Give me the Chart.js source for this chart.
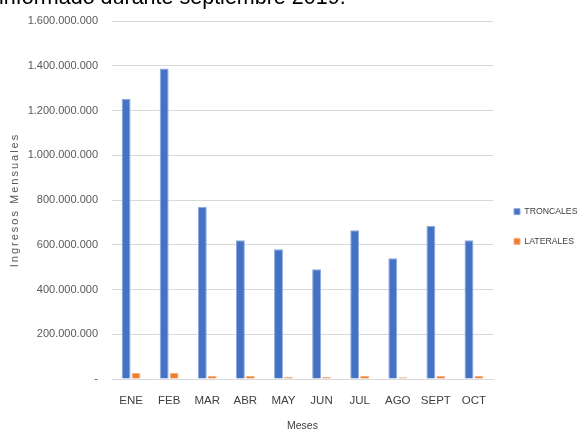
<!DOCTYPE html>
<html>
<head>
<meta charset="utf-8">
<script src="https://cdn.jsdelivr.net/npm/chart.js@4/dist/chart.umd.min.js"></script>
<style>
  body { margin: 0; background: #fff; }
  #wrap { position: relative; width: 578px; height: 432px; overflow: hidden; }
  #doc {
    position: absolute; left: -1px; top: -13px;
    font: 21.5px "Liberation Sans", Arial, sans-serif; line-height: 21px;
    color: #000; white-space: nowrap;
  }
</style>
</head>
<body>
<div id="wrap">
  <canvas id="ingresosChart" width="578" height="432"></canvas>
  <div id="doc">informado durante septiembre 2019.</div>
</div>
<script>
const meses = ['ENE', 'FEB', 'MAR', 'ABR', 'MAY', 'JUN', 'JUL', 'AGO', 'SEPT', 'OCT'];
const troncales = [1253000000, 1388000000, 770000000, 620000000, 580000000, 490000000, 665000000, 540000000, 685000000, 620000000];
const laterales = [27000000, 27000000, 15000000, 15000000, 9000000, 9000000, 15000000, 8000000, 15000000, 15000000];

const sans = '"Liberation Sans", Arial, sans-serif';

function puntos(v) {
  if (v === 0) return '-';
  return String(v).replace(/\B(?=(\d{3})+(?!\d))/g, '.');
}

// y axis title is drawn with letter spacing, as in the source
const spacedTitle = {
  id: 'spacedTitle',
  beforeDraw(chart) {
    const s = chart.scales.y;
    if (!s._spaced) {
      const orig = s.drawTitle;
      s.drawTitle = function () {
        this.ctx.save();
        this.ctx.letterSpacing = '2px';
        orig.call(this);
        this.ctx.restore();
      };
      s._spaced = true;
    }
  }
};

new Chart('ingresosChart', {
  type: 'bar',
  data: {
    labels: meses,
    datasets: [
      {
        label: 'TRONCALES',
        data: troncales,
        backgroundColor: '#4472C4',
        borderColor: '#8eaadb',
        borderWidth: 1,
        categoryPercentage: 0.52,
        barPercentage: 0.9
      },
      {
        label: 'LATERALES',
        data: laterales,
        backgroundColor: '#ED7D31',
        borderColor: '#f4b183',
        borderWidth: 1,
        categoryPercentage: 0.52,
        barPercentage: 0.9
      }
    ]
  },
  options: {
    responsive: false,
    animation: false,
    layout: { padding: { top: 21, left: 0, right: 0, bottom: 0 } },
    plugins: {
      tooltip: { enabled: false },
      legend: {
        position: 'right',
        maxWidth: 85,
        labels: {
          boxWidth: 6,
          boxHeight: 6,
          padding: 21,
          color: '#404040',
          font: { family: sans, size: 8.7 }
        }
      }
    },
    scales: {
      x: {
        afterFit: s => { s.height = 53; },
        grid: { display: false, drawTicks: false },
        border: { display: true, color: '#d9d9d9' },
        ticks: {
          color: '#404040',
          padding: 15,
          maxRotation: 0,
          autoSkip: false,
          font: { family: sans, size: 11.5 }
        },
        title: {
          display: true,
          text: 'Meses',
          color: '#404040',
          padding: { top: 0, bottom: 0 },
          font: { family: sans, size: 10.5 }
        }
      },
      y: {
        afterFit: s => { s.width = 112; },
        min: 0,
        max: 1600000000,
        border: { display: false },
        grid: { color: '#d9d9d9', drawTicks: false },
        ticks: {
          stepSize: 200000000,
          padding: 14,
          color: '#595959',
          font: { family: sans, size: 11 },
          callback: v => puntos(v)
        },
        title: {
          display: true,
          text: 'Ingresos Mensuales',
          color: '#595959',
          padding: { top: 8, bottom: 5 },
          font: { family: sans, size: 11 }
        }
      }
    }
  },
  plugins: [spacedTitle]
});
</script>
</body>
</html>
